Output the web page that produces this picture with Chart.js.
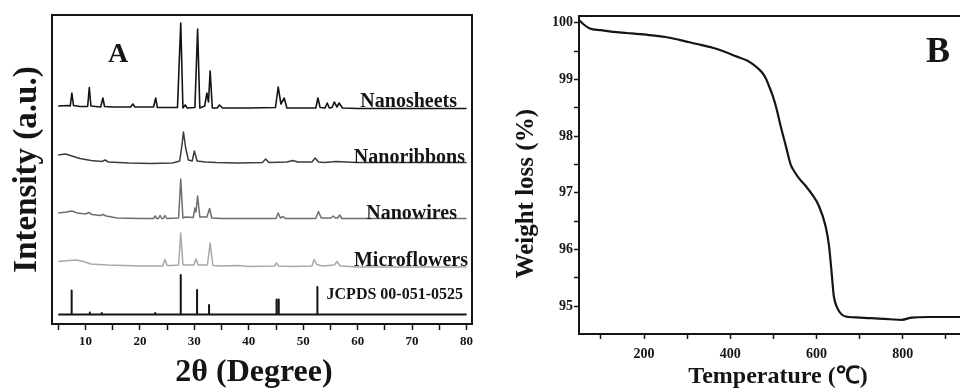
<!DOCTYPE html>
<html>
<head>
<meta charset="utf-8">
<script src="https://cdn.jsdelivr.net/npm/chart.js@4.4.1/dist/chart.umd.min.js"></script>
<style>
  html, body { margin:0; padding:0; background:#fff; overflow:hidden; width:960px; height:392px; }
  canvas { position:absolute; top:0; }
</style>
</head>
<body>
<canvas id="xrdChart" width="480" height="392" style="left:0"></canvas>
<canvas id="tgaChart" width="530" height="392" style="left:480px"></canvas>
<script>
// ---- XRD patterns (panel A), intensity in arbitrary units, stacked ----
const nanosheetsTheta = [5,6.8,7.2,7.5,7.8,9,10.4,10.7,11.0,12.8,13.2,13.5,15,18.3,18.7,19.1,22.5,22.9,23.2,26.9,27.5,27.9,28.3,28.7,30.1,30.6,31.0,31.9,32.3,32.6,32.9,33.3,34.2,34.6,35.2,40,44.9,45.4,45.9,46.5,47.0,50,52.3,52.7,53.1,54.0,54.4,54.8,55.3,55.7,56.2,56.6,57.2,60,70,80];
const nanosheetsInt   = [218,218.5,218,231,218.5,217.5,217.5,236.5,218,217,226,217.5,217,217,220,217,217,226,216.5,216.5,301,216,219,216,216.5,295,216,218,231,222,253,216,216,219,216,216,216.5,237,220,226,216,216,216,226,216.5,216,221,216,216.5,222,217,221,216,215.5,215.5,215.5];

const nanoribbonsTheta = [5,6.3,7.5,9,11,13,13.6,14.2,18,22,26,27.3,27.7,28.0,28.4,28.9,29.6,30.0,30.5,32,34,38,42.5,43.1,43.7,47,48.1,49,51.6,52.2,52.8,54,56,60,70,80];
const nanoribbonsInt   = [169,170,168,165.5,163.5,162.5,164,162,161,160.5,161,163,178,192,176,164,163,173,163,162,161.5,161,161.5,165,161.5,162,163.5,162,162,166,162,161.5,162.5,161.5,161.5,161.5];

const nanowiresTheta = [5,6.5,7.5,8.5,10,10.6,11.2,12.7,13.2,13.8,15.8,20,22.5,22.8,23.1,23.4,23.7,24.0,24.3,24.6,24.9,27.1,27.5,27.9,28.4,29.8,30.1,30.3,30.6,31.0,32.3,32.8,33.2,35,45,45.4,45.8,46.3,46.7,52.3,52.8,53.3,55.1,55.5,55.9,56.3,56.7,57.1,60,70,80];
const nanowiresInt   = [111,112,113,111,110,111.5,109.5,108.5,109.5,108,106,105.5,105.5,108,105.5,105.5,108.5,105.5,105.5,108.5,105.5,106,145,106,107,106.5,116,112,128,107,107,115.5,106,105.5,105.5,111,106,107.5,105.5,105.5,112.5,106,106,108,106,106,109,105.5,105.5,105.5,105.5];

const microflowersTheta = [5,7,8.4,9.6,11,14,20,24.2,24.6,25.0,26,27.1,27.5,27.9,28.5,29.9,30.3,30.7,32.4,32.9,33.4,35,38,40,44.7,45.1,45.5,48,51.6,52.0,52.5,53.5,55.7,56.2,56.8,60,70,80];
const microflowersInt   = [62.5,63.5,64,62.5,60,59,58,58,64.5,58.5,58.5,59,91,59,59,59,65,59,59,81,58.5,58,58.5,57.5,58,61,58,57.5,58,64.5,59.5,58,59,62.5,58,57,57,57];

// reference card JCPDS 00-051-0525 (stick pattern)
const jcpdsBase   = 9.5;
const jcpdsTheta  = [7.46,10.8,13.0,22.8,27.5,30.5,32.7,45.1,45.5,52.6];
const jcpdsHeight = [24,2,1.5,1.5,39.5,24.5,9.5,15,15,27.5];
const jcpdsRange  = [5,80];

// ---- TGA curve (panel B) ----
const tgaTemp   = [49,60,74,100,128,160,205,250,282,320,359,390,413,440,452,465,475,483,490,498,506,517,529,540,550,559,575,590,606,621,629,635,640,648,659,675,700,744,770,798,821,860,900,940];
const tgaWeight = [100.05,99.97,99.90,99.87,99.84,99.82,99.79,99.75,99.70,99.63,99.56,99.48,99.41,99.33,99.27,99.19,99.11,99.01,98.88,98.72,98.52,98.17,97.82,97.50,97.36,97.26,97.12,96.97,96.76,96.41,96.06,95.59,95.18,94.97,94.85,94.81,94.80,94.78,94.77,94.76,94.80,94.81,94.81,94.81];

const SERIF = "'Liberation Serif', 'Times New Roman', serif";
const INK = '#151515';
Chart.defaults.font.family = SERIF;
Chart.defaults.color = INK;

const toPoints = (xs, ys) => xs.map((x, i) => ({ x, y: ys[i] }));

function stickPoints(){
  const pts = [{ x: jcpdsRange[0], y: jcpdsBase }];
  jcpdsTheta.forEach((t, i) => {
    pts.push({ x: t, y: jcpdsBase }, { x: t, y: jcpdsBase + jcpdsHeight[i] }, { x: t, y: jcpdsBase });
  });
  pts.push({ x: jcpdsRange[1], y: jcpdsBase });
  return pts;
}

// draws the frame and free text labels
const decor = {
  id: 'decor',
  afterDatasetsDraw(chart, args, opts){
    const { ctx, chartArea: a } = chart;
    ctx.save();
    ctx.strokeStyle = INK;
    ctx.lineWidth = 2;
    ctx.strokeRect(a.left, a.top, a.right - a.left, a.bottom - a.top);
    (opts.texts || []).forEach(t => {
      ctx.font = `bold ${t.size}px ${SERIF}`;
      ctx.fillStyle = INK;
      ctx.textAlign = t.align;
      ctx.textBaseline = 'alphabetic';
      ctx.fillText(t.text, t.x, t.y);
    });
    ctx.restore();
  }
};

const line = (label, pts, color, width) => ({
  label, data: pts, borderColor: color, borderWidth: width,
  pointRadius: 0, tension: 0, borderJoinStyle: 'round', fill: false
});

new Chart(document.getElementById('xrdChart'), {
  type: 'line',
  data: {
    datasets: [
      line('Nanosheets', toPoints(nanosheetsTheta, nanosheetsInt), '#141414', 1.6),
      line('Nanoribbons', toPoints(nanoribbonsTheta, nanoribbonsInt), '#3c3c3c', 1.5),
      line('Nanowires', toPoints(nanowiresTheta, nanowiresInt), '#6e6e6e', 1.5),
      line('Microflowers', toPoints(microflowersTheta, microflowersInt), '#a8a8a8', 1.5),
      line('JCPDS 00-051-0525', stickPoints(), '#141414', 2)
    ]
  },
  options: {
    responsive: false, animation: false,
    layout: { padding: { top: 15, right: 8, left: 0, bottom: 0 } },
    plugins: {
      legend: { display: false }, tooltip: { enabled: false },
      decor: { texts: [
        { text: 'A', x: 118, y: 62, size: 28, align: 'center' },
        { text: 'Nanosheets', x: 457, y: 107, size: 20, align: 'right' },
        { text: 'Nanoribbons', x: 465, y: 163, size: 20, align: 'right' },
        { text: 'Nanowires', x: 457, y: 219, size: 20, align: 'right' },
        { text: 'Microflowers', x: 468, y: 266, size: 20, align: 'right' },
        { text: 'JCPDS 00-051-0525', x: 463, y: 299, size: 16, align: 'right' }
      ] }
    },
    scales: {
      x: {
        type: 'linear', min: 3.85, max: 81,
        afterFit: s => { s.height = 68; },
        border: { display: false },
        grid: { drawOnChartArea: false, tickLength: 6, tickColor: INK, tickWidth: 1.5 },
        ticks: { stepSize: 5, includeBounds: false, autoSkip: false, maxRotation: 0, padding: 4,
                 font: { size: 13, weight: 'bold' },
                 callback: v => (v % 10 === 0 ? v : '') },
        title: { display: true, text: '2θ (Degree)  ', font: { size: 32, weight: 'bold', lineHeight: 1 },
                 padding: { top: 0, bottom: 3 } }
      },
      y: {
        type: 'linear', min: 0, max: 309,
        afterFit: s => { s.width = 52; },
        border: { display: false },
        grid: { display: false },
        ticks: { display: false },
        title: { display: true, text: 'Intensity (a.u.)', font: { size: 33, weight: 'bold', lineHeight: 1 },
                 padding: { top: 11, bottom: 0 } }
      }
    }
  },
  plugins: [decor]
});

new Chart(document.getElementById('tgaChart'), {
  type: 'line',
  data: {
    datasets: [{
      label: 'Weight loss', data: toPoints(tgaTemp, tgaWeight),
      borderColor: INK, borderWidth: 2.2, pointRadius: 0,
      cubicInterpolationMode: 'monotone', fill: false
    }]
  },
  options: {
    responsive: false, animation: false,
    layout: { padding: { top: 16, right: 19, left: 0, bottom: 0 } },
    plugins: {
      legend: { display: false }, tooltip: { enabled: false },
      decor: { texts: [ { text: 'B', x: 470, y: 62, size: 36, align: 'right' } ] }
    },
    scales: {
      x: {
        type: 'linear', min: 49, max: 1000,
        afterFit: s => { s.height = 58; },
        border: { display: false },
        grid: { drawOnChartArea: false, tickLength: 5, tickColor: INK, tickWidth: 1.5 },
        ticks: { stepSize: 100, includeBounds: false, autoSkip: false, maxRotation: 0, padding: 7,
                 font: { size: 14, weight: 'bold' },
                 callback: v => (v % 200 === 0 ? v : '') },
        title: { display: true, text: 'Temperature (℃)  ', font: { size: 24, weight: 'bold', lineHeight: 1 },
                 padding: { top: 0, bottom: 3 } }
      },
      y: {
        type: 'linear', min: 94.51, max: 100.12,
        afterFit: s => { s.width = 99; },
        border: { display: false },
        grid: { drawOnChartArea: false, tickLength: 5, tickColor: INK, tickWidth: 1.5 },
        ticks: { stepSize: 0.5, includeBounds: false, autoSkip: false, padding: 1,
                 font: { size: 14, weight: 'bold' },
                 callback: v => (Number.isInteger(v) ? v : '') },
        title: { display: true, text: 'Weight loss (%)      ', font: { size: 25, weight: 'bold', lineHeight: 1 },
                 padding: { top: 34, bottom: 0 } }
      }
    }
  },
  plugins: [decor]
});
</script>
</body>
</html>
